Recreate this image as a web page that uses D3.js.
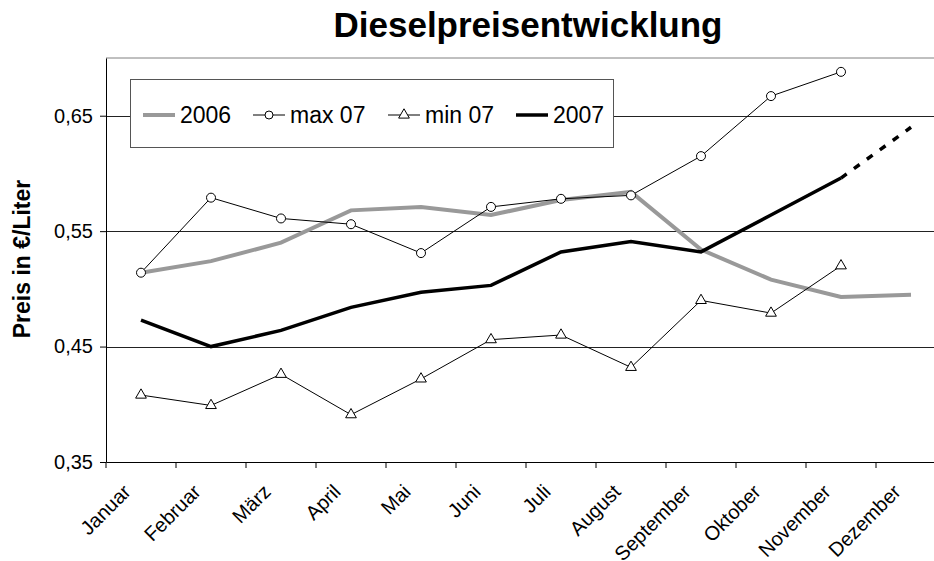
<html>
<head>
<script src="https://d3js.org/d3.v7.min.js"></script>
<style>
body { margin: 0; background: #fff; font-family: 'Liberation Sans', Arial, sans-serif; }
</style>
</head>
<body>
<div id="chart"></div>
<script>
  // data
  var months = ["Januar", "Februar", "März", "April", "Mai", "Juni", "Juli", "August", "September", "Oktober", "November", "Dezember"];
  var y2006 = [0.514, 0.524, 0.540, 0.568, 0.571, 0.564, 0.577, 0.584, 0.534, 0.508, 0.493, 0.495];
  var max07 = [0.514, 0.579, 0.561, 0.556, 0.531, 0.571, 0.578, 0.581, 0.615, 0.667, 0.688];
  var min07 = [0.408, 0.399, 0.426, 0.391, 0.422, 0.456, 0.460, 0.432, 0.490, 0.479, 0.520];
  var y2007 = [0.473, 0.450, 0.464, 0.484, 0.497, 0.503, 0.532, 0.541, 0.532, 0.564, 0.596];
  var y2007forecast = [null, null, null, null, null, null, null, null, null, null, 0.596, 0.640];
  var yTicks = [0.35, 0.45, 0.55, 0.65];

  var width = 934, height = 561;
  var padLeft = 106, padTop = 58, padBottom = 462, padRight = 946;

  var svg = d3.select("#chart").append("svg")
    .attr("width", width)
    .attr("height", height);

  var x = d3.scaleBand().domain(months).range([padLeft, padRight]);
  var y = d3.scaleLinear().domain([0.35, 0.70]).range([padBottom, padTop]);
  var cx = function(i) { return x(months[i]) + x.bandwidth() / 2; };
  var fmt = function(d) { return d.toFixed(2).replace(".", ","); };

  // title
  svg.append("text")
    .attr("x", 528).attr("y", 37)
    .attr("text-anchor", "middle")
    .attr("font-size", 35).attr("font-weight", "bold")
    .text("Dieselpreisentwicklung");

  // plot border top and gridlines
  svg.append("line")
    .attr("x1", padLeft).attr("x2", padRight).attr("y1", y(0.70)).attr("y2", y(0.70))
    .attr("stroke", "#808080");
  svg.selectAll(".grid").data(yTicks.slice(1)).enter().append("line")
    .attr("x1", padLeft).attr("x2", padRight)
    .attr("y1", function(d) { return Math.round(y(d)) + 0.5; })
    .attr("y2", function(d) { return Math.round(y(d)) + 0.5; })
    .attr("stroke", "#222").attr("stroke-width", 1);

  // axes
  var yAxis = svg.append("g")
    .attr("transform", "translate(" + padLeft + ",0)")
    .call(d3.axisLeft(y).tickValues(yTicks).tickFormat(fmt).tickSize(6).tickSizeOuter(0));
  yAxis.selectAll("text").attr("font-size", 20).attr("fill", "#000").attr("dx", -4)
    .attr("font-family", "'Liberation Sans', Arial, sans-serif");
  yAxis.select(".domain").attr("stroke", "#000");

  var xAxis = svg.append("g")
    .attr("transform", "translate(0," + padBottom + ")")
    .call(d3.axisBottom(x).tickSize(0).tickSizeOuter(0));
  xAxis.select(".domain").attr("stroke", "#000");
  xAxis.selectAll("text")
    .attr("font-size", 20).attr("fill", "#000")
    .attr("font-family", "'Liberation Sans', Arial, sans-serif")
    .attr("text-anchor", "end")
    .attr("dy", 0).attr("y", 0)
    .attr("transform", "translate(-9,31) rotate(-45)");
  // tick marks at category boundaries
  svg.selectAll(".xtick").data(months).enter().append("line")
    .attr("x1", function(d) { return x(d); }).attr("x2", function(d) { return x(d); })
    .attr("y1", padBottom).attr("y2", padBottom + 6)
    .attr("stroke", "#000");

  // y axis title
  svg.append("text")
    .attr("transform", "translate(30,259) rotate(-90)")
    .attr("text-anchor", "middle")
    .attr("font-size", 23).attr("font-weight", "bold")
    .text("Preis in €/Liter");

  var line = d3.line()
    .defined(function(d) { return d != null; })
    .x(function(d, i) { return cx(i); })
    .y(function(d) { return y(d); });

  svg.append("path").datum(y2006).attr("d", line)
    .attr("fill", "none").attr("stroke", "#999").attr("stroke-width", 4);
  svg.append("path").datum(max07).attr("d", line)
    .attr("fill", "none").attr("stroke", "#000").attr("stroke-width", 1);
  svg.append("path").datum(min07).attr("d", line)
    .attr("fill", "none").attr("stroke", "#000").attr("stroke-width", 1);
  svg.append("path").datum(y2007).attr("d", line)
    .attr("fill", "none").attr("stroke", "#000").attr("stroke-width", 3.5);
  svg.append("path").datum(y2007forecast).attr("d", line)
    .attr("fill", "none").attr("stroke", "#000").attr("stroke-width", 3.5)
    .attr("stroke-dasharray", "7,9");

  var tri = d3.symbol().type(d3.symbolTriangle).size(50);

  svg.selectAll(".maxpt").data(max07).enter().append("circle")
    .attr("cx", function(d, i) { return cx(i); })
    .attr("cy", function(d) { return y(d); })
    .attr("r", 4.5).attr("fill", "#fff").attr("stroke", "#000");
  svg.selectAll(".minpt").data(min07).enter().append("path")
    .attr("d", tri)
    .attr("transform", function(d, i) { return "translate(" + cx(i) + "," + y(d) + ")"; })
    .attr("fill", "#fff").attr("stroke", "#000");

  // legend
  var lg = svg.append("g");
  lg.append("rect")
    .attr("x", 130.5).attr("y", 79.5).attr("width", 483).attr("height", 68)
    .attr("fill", "#fff").attr("stroke", "#555");
  var ly = 115;
  var legendItems = [
    { name: "2006", x: 143, color: "#999", w: 4, mark: null },
    { name: "max 07", x: 253, color: "#000", w: 1, mark: "circle" },
    { name: "min 07", x: 388, color: "#000", w: 1, mark: "tri" },
    { name: "2007", x: 516, color: "#000", w: 3.5, mark: null }
  ];
  legendItems.forEach(function(it) {
    lg.append("line")
      .attr("x1", it.x).attr("x2", it.x + 32).attr("y1", ly).attr("y2", ly)
      .attr("stroke", it.color).attr("stroke-width", it.w);
    if (it.mark == "circle") {
      lg.append("circle").attr("cx", it.x + 16).attr("cy", ly).attr("r", 4)
        .attr("fill", "#fff").attr("stroke", "#000");
    }
    if (it.mark == "tri") {
      lg.append("path").attr("d", tri).attr("transform", "translate(" + (it.x + 16) + "," + ly + ")")
        .attr("fill", "#fff").attr("stroke", "#000");
    }
    lg.append("text")
      .attr("x", it.x + 37).attr("y", ly + 8)
      .attr("font-size", 23)
      .text(it.name);
  });
</script>
</body>
</html>
